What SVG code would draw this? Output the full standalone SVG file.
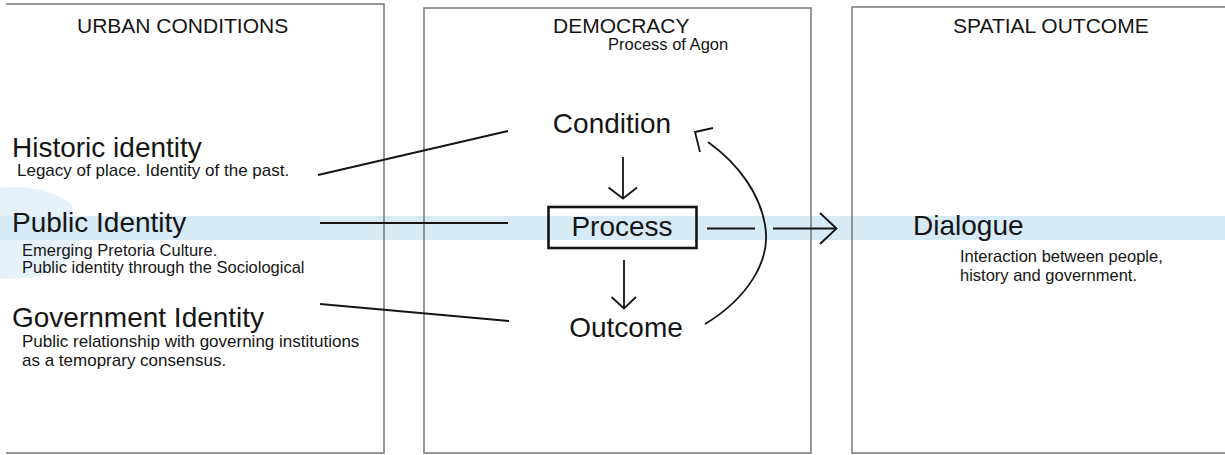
<svg xmlns="http://www.w3.org/2000/svg" width="1225" height="455" viewBox="0 0 1225 455">
<style>
text{font-family:"Liberation Sans",Arial,sans-serif;fill:#151515}
.hdr{font-size:21px}
.big{font-size:28px}
.sub{font-size:16.5px}
.sub2{font-size:17px}
.panel{fill:none;stroke:#767676;stroke-width:1.5}
.ln{fill:none;stroke:#151515;stroke-width:1.8}
</style>
<rect width="1225" height="455" fill="#ffffff"/>
<g id="band">
<path d="M0,188 C30,184 55,192 72,204 L74,218 L0,218 Z" fill="#e6f2fa"/>
<path d="M0,238 L80,238 C76,258 58,272 30,278 L0,279 Z" fill="#e6f2fa"/>
<rect x="0" y="216" width="1225" height="24" fill="#d7ebf7"/>
</g>
<g id="panel-urban">
<path class="panel" d="M6,4 H384 V453 H6"/>
<text class="hdr" x="77" y="33">URBAN CONDITIONS</text>
</g>
<g id="panel-democracy">
<rect class="panel" x="424" y="8" width="387" height="445"/>
<text class="hdr" x="553" y="33">DEMOCRACY</text>
<text class="sub" x="608" y="50">Process of Agon</text>
</g>
<g id="panel-spatial">
<path class="panel" d="M1225,7 H852 V453 H1225"/>
<text class="hdr" x="953" y="33">SPATIAL OUTCOME</text>
</g>
<g id="historic">
<text class="big" x="12" y="157">Historic identity</text>
<text class="sub2" x="17" y="176">Legacy of place. Identity of the past.</text>
</g>
<g id="public">
<text class="big" x="12" y="232">Public Identity</text>
<text class="sub" x="22" y="256">Emerging Pretoria Culture.</text>
<text class="sub" x="22" y="273">Public identity through the Sociological</text>
</g>
<g id="government">
<text class="big" x="12" y="327">Government Identity</text>
<text class="sub2" x="22" y="347">Public relationship with governing institutions</text>
<text class="sub2" x="22" y="366">as a temoprary consensus.</text>
</g>
<g id="condition">
<text class="big" x="612" y="133" text-anchor="middle">Condition</text>
</g>
<g id="process">
<rect x="548.5" y="207" width="148" height="41" fill="none" stroke="#151515" stroke-width="2.6"/>
<text class="big" x="622" y="236" text-anchor="middle">Process</text>
</g>
<g id="outcome">
<text class="big" x="626" y="337" text-anchor="middle">Outcome</text>
</g>
<g id="dialogue">
<text class="big" x="913" y="235">Dialogue</text>
<text class="sub" x="960" y="262">Interaction between people,</text>
<text class="sub" x="960" y="281">history and government.</text>
</g>
<g id="connectors">
<line class="ln" x1="318" y1="175" x2="508" y2="131"/>
<line class="ln" x1="320" y1="223" x2="508" y2="223"/>
<line class="ln" x1="320" y1="304" x2="509" y2="321"/>
<line class="ln" x1="623" y1="157" x2="623" y2="198"/>
<polyline class="ln" points="608.5,187.5 623,198.5 637,187.5"/>
<line class="ln" x1="624" y1="260" x2="624" y2="308"/>
<polyline class="ln" points="611.5,297 624,308.5 636,297"/>
<line class="ln" x1="707" y1="228.5" x2="755" y2="228.5"/>
<line class="ln" x1="773" y1="228.5" x2="836" y2="228.5"/>
<polyline class="ln" points="820,213 836.5,228.5 820,244"/>
<path class="ln" d="M705,324 C745,300 772,262 765,225 C760,195 740,165 708,142"/>
<polyline class="ln" points="713,128 695,132 700,152"/>
</g>
</svg>
